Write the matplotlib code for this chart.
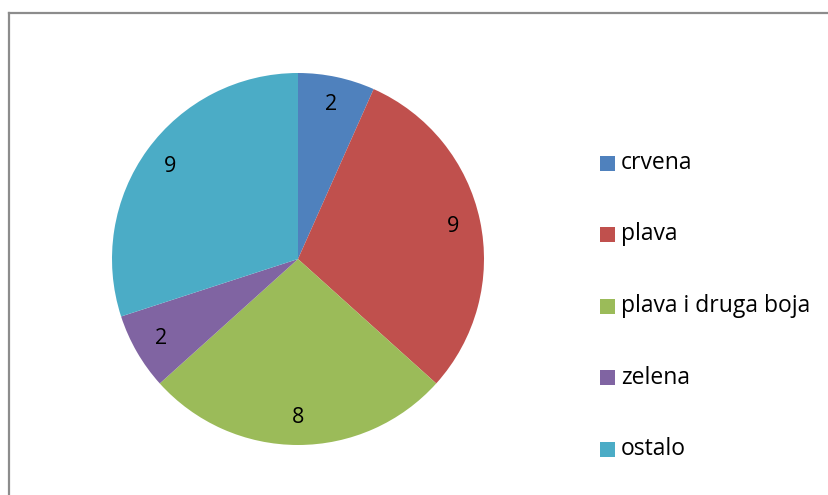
import matplotlib.pyplot as plt
from matplotlib.patches import Rectangle
from matplotlib.lines import Line2D

# podaci
kategorije = ['crvena', 'plava', 'plava i druga boja', 'zelena', 'ostalo']
vrijednosti = [2, 9, 8, 2, 9]
boje = ['#4F81BD', '#C0504D', '#9BBB59', '#8064A2', '#4BACC6']

W, H = 829, 495
plt.rcParams['font.family'] = ['Open Sans', 'DejaVu Sans']

fig = plt.figure(figsize=(W / 100, H / 100), dpi=100)
fig.patch.set_facecolor('white')

# okvir grafikona (vidljiv samo gore i lijevo)
fig.add_artist(Line2D([9.5 / W, 9.5 / W], [0, 1 - 12.5 / H], color='#8c8c8c', lw=1.6))
fig.add_artist(Line2D([9.5 / W, 1], [1 - 12.5 / H, 1 - 12.5 / H], color='#8c8c8c', lw=1.6))

cx, cy, r = 298, 259, 186
ax = fig.add_axes([(cx - r) / W, (H - cy - r) / H, 2 * r / W, 2 * r / H])
wedges, texts = ax.pie(vrijednosti, colors=boje, startangle=90, counterclock=False,
                       labels=[str(v) for v in vrijednosti], labeldistance=0.85,
                       textprops={'fontsize': 15.5, 'color': 'black'})
for t in texts:
    t.set_ha('center')
    t.set_va('center')
ax.set_xlim(-1, 1)
ax.set_ylim(-1, 1)
ax.set_aspect('equal')
ax.axis('off')

# legenda
y0, dy = 163, 71.5
for i, (k, b) in enumerate(zip(kategorije, boje)):
    y = y0 + i * dy
    fig.add_artist(Rectangle((600 / W, 1 - (y + 7.5) / H), 15 / W, 15 / H,
                             facecolor=b, edgecolor='none'))
    fig.text(621 / W, 1 - y / H, k, fontsize=16.5, va='center', ha='left', color='black')

fig.savefig('out.png', dpi=100)
